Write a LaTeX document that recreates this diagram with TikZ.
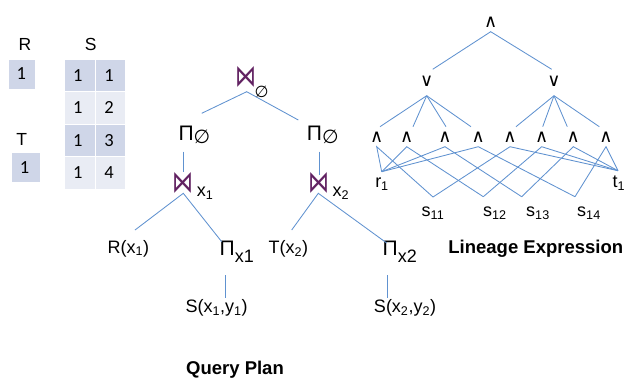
\documentclass[tikz,border=0pt]{standalone}
\usepackage{fontspec}
\setmainfont{Liberation Sans}
\newfontfamily\symf{DejaVu Sans}
\newfontfamily\tabf{Carlito}
\definecolor{edge}{RGB}{96,146,208}
\definecolor{joinc}{RGB}{98,34,98}
\definecolor{banddark}{RGB}{207,214,232}
\definecolor{bandlight}{RGB}{233,236,244}
\newcommand\lowsub[1]{\raisebox{-7pt}{\fontsize{18}{20}\selectfont #1}}
\newcommand\bigpi{{\fontsize{21}{23}\selectfont Π}}
\newcommand\emptyop{{\symf\fontsize{19}{21}\selectfont\raisebox{-3pt}{∅}}}
\newcommand\joinglyph{\scalebox{1}[1.45]{⋈}}
\begin{document}
\begin{tikzpicture}[x=1pt,y=-1pt,
  lbl/.style={inner sep=0pt, font=\fontsize{18}{20}\selectfont},
  hdr/.style={inner sep=0pt, font=\fontsize{17.5}{20}\selectfont},
  cellbox/.style={inner ysep=0pt, inner xsep=8pt, text width=14pt, align=left,
                  minimum height=31.5pt, anchor=north west, font=\tabf\fontsize{18.5}{20}\selectfont},
  conn/.style={draw=edge, line width=0.85pt},
  logic/.style={inner sep=0pt, font=\symf\fontsize{18}{20}\selectfont},
  joinop/.style={inner sep=0pt, text=joinc, font=\symf\fontsize{21}{23}\selectfont},
  title/.style={inner sep=0pt, font=\bfseries\fontsize{18.5}{20}\selectfont}]
\useasboundingbox (0,0) rectangle (641,384);

% ---------- relations R, S, T ----------
\node[hdr] (Rh) at (25,44) {R};
\node[hdr] (Sh) at (90.8,44) {S};
\node[hdr] (Th) at (21.7,139) {T};
\node[cellbox, fill=banddark, text width=10.7pt, minimum height=29pt] (Rc) at (8.3,59.3) {1};
\node[cellbox, fill=banddark, text width=12.3pt, minimum height=29.4pt] (Tc) at (11.7,152.3) {1};
\foreach \r/\y/\c/\v in {1/59.3/banddark/1, 2/91.8/bandlight/2, 3/124.3/banddark/3, 4/156.8/bandlight/4}{
  \node[cellbox, fill=\c] (Sa\r) at (65,\y) {1};
  \node[cellbox, fill=\c, text width=13pt] (Sb\r) at (96.2,\y) {\v};
}

% ---------- query plan ----------
\node[joinop] (j0) at (246.2,76.7) {\joinglyph};
\node[inner sep=0pt, font=\symf\fontsize{16}{18}\selectfont] (j0s) at (261.7,91.7) {∅};
\node[lbl, anchor=base west] (pL) at (178.3,140) {\bigpi\emptyop};
\node[lbl, anchor=base west] (pR) at (306.7,140) {\bigpi\emptyop};
\node[joinop] (j1) at (183.3,182.8) {\joinglyph};
\node[lbl, anchor=base west] (j1s) at (196.7,196.7) {x\textsubscript{1}};
\node[joinop] (j2) at (318.8,182.8) {\joinglyph};
\node[lbl, anchor=base west] (j2s) at (332.3,196.7) {x\textsubscript{2}};
\node[lbl] (Rx) at (128.3,248.5) {R(x\textsubscript{1})};
\node[lbl, anchor=base west] (px1) at (219.5,255) {\bigpi\lowsub{x1}};
\node[lbl] (Tx) at (288.3,248.5) {T(x\textsubscript{2})};
\node[lbl, anchor=base west] (px2) at (382.5,255) {\bigpi\lowsub{x2}};
\node[lbl] (Sxy1) at (216.7,308.3) {S(x\textsubscript{1},y\textsubscript{1})};
\node[lbl] (Sxy2) at (405,308.3) {S(x\textsubscript{2},y\textsubscript{2})};
\node[title] (qp) at (235,370) {Query Plan};

% connector ends of the plan
\coordinate (j0-b) at (246.7,91.7);
\coordinate (pL-t) at (201.7,113.3);
\coordinate (pR-t) at (298.3,120);
\coordinate (pL-b) at (183.3,151.7);
\coordinate (pR-b) at (319,151.7);
\coordinate (j1-t) at (183.3,171.7);
\coordinate (j2-t) at (319,175);
\coordinate (j1-b) at (183.3,193.3);
\coordinate (j2-b) at (318.3,193.3);
\coordinate (Rx-t) at (135,230);
\coordinate (px1-t) at (221.7,241.7);
\coordinate (Tx-t) at (291.7,230);
\coordinate (px2-t) at (386.7,243);
\coordinate (px1-b) at (225,275);
\coordinate (px2-b) at (387.7,275);
\coordinate (Sxy1-t) at (225,298.3);
\coordinate (Sxy2-t) at (387.7,298.3);

\draw[conn] (pL-t) -- (j0-b) -- (pR-t);
\draw[conn] (pL-b) -- (j1-t);
\draw[conn] (pR-b) -- (j2-t);
\draw[conn] (Rx-t) -- (j1-b) -- (px1-t);
\draw[conn] (Tx-t) -- (j2-b) -- (px2-t);
\draw[conn] (px1-b) -- (Sxy1-t);
\draw[conn] (px2-b) -- (Sxy2-t);

% ---------- lineage expression ----------
\node[logic] (and0) at (490.7,22.7) {∧};
\node[logic] (orL) at (426.7,81) {∨};
\node[logic] (orR) at (554,81) {∨};
\foreach \i/\x in {1/376.7, 2/406.7, 3/445, 4/478.3, 5/510, 6/541.7, 7/573.3, 8/606}{
  \node[logic] (a\i) at (\x,137.5) {∧};
  \coordinate (a\i-b) at (\x,146.7);
}
\foreach \i/\x in {1/380, 2/413, 3/446, 4/471, 5/516, 6/542.7, 7/567.3, 8/599.3}{
  \coordinate (a\i-t) at (\x,126.7);
}
\coordinate (and0-b) at (490.7,31.7);
\coordinate (orL-t) at (432.7,69.3);
\coordinate (orR-t) at (551.7,69.3);
\coordinate (orL-b) at (426.7,95.7);
\coordinate (orR-b) at (554,95.7);
\coordinate (r1v) at (381.7,171.7);
\coordinate (t1v) at (618,170.7);
\coordinate (s11v) at (433,197);
\coordinate (s12v) at (483.3,196.7);
\coordinate (s13v) at (521.7,196.7);
\coordinate (s14v) at (575,196.7);

\node[lbl] (r1) at (382,184) {r\textsubscript{1}};
\node[lbl] (t1) at (619,183) {t\textsubscript{1}};
\node[lbl] (s11) at (433,213) {s\textsubscript{11}};
\node[lbl] (s12) at (495,213) {s\textsubscript{12}};
\node[lbl] (s13) at (538,213) {s\textsubscript{13}};
\node[lbl] (s14) at (589,213) {s\textsubscript{14}};
\node[title] (le) at (535.8,248.3) {Lineage Expression};

\draw[conn] (orL-t) -- (and0-b) -- (orR-t);
\foreach \i in {1,2,3,4}{ \draw[conn] (orL-b) -- (a\i-t); }
\foreach \i in {5,6,7,8}{ \draw[conn] (orR-b) -- (a\i-t); }
\foreach \i/\s in {1/s11v, 2/s12v, 3/s13v, 4/s14v}{
  \draw[conn] (r1v) -- (a\i-b) -- (\s);
}
\foreach \i/\s in {5/s11v, 6/s12v, 7/s13v, 8/s14v}{
  \draw[conn] (\s) -- (a\i-b) -- (t1v);
}
\end{tikzpicture}
\end{document}
